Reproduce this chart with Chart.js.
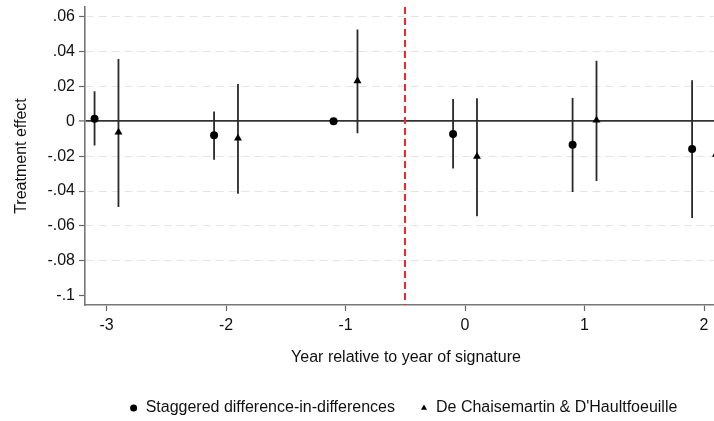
<!DOCTYPE html>
<html>
<head>
<meta charset="utf-8">
<script src="https://cdn.jsdelivr.net/npm/chart.js@4"></script>
<style>
  body { margin: 0; background: #fff; }
  #wrap { width: 714px; height: 421px; overflow: hidden; }
</style>
</head>
<body>
<div id="wrap"><canvas id="myChart" width="735" height="421"></canvas></div>
<script>
// event time (years relative to signature)
const eventTimes = [-3, -2, -1, 0, 1, 2];

// staggered DiD estimates and 95% CI
const staggeredEst = [0.0015, -0.008, 0, -0.0072, -0.0135, -0.0158];
const staggeredLo = [-0.0138, -0.022, null, -0.0271, -0.0405, -0.0554];
const staggeredHi = [0.0172, 0.0057, null, 0.0128, 0.0134, 0.0235];

// de Chaisemartin & D'Haultfoeuille estimates and CI
const dcdhEst = [-0.0063, -0.0097, 0.0232, -0.0202, 0.0006, -0.019];
const dcdhLo = [-0.0491, -0.0416, -0.0069, -0.0545, -0.0342, -0.05];
const dcdhHi = [0.0358, 0.0214, 0.0526, 0.0132, 0.0348, 0.012];

const xTicks = [-3, -2, -1, 0, 1, 2];
const xTickLabels = ['-3', '-2', '-1', '0', '1', '2'];
const yTicks = [-0.1, -0.08, -0.06, -0.04, -0.02, 0, 0.02, 0.04, 0.06];
const yTickLabels = ['-.1', '-.08', '-.06', '-.04', '-.02', '0', '.02', '.04', '.06'];

const eventLine = -0.5;
const offset = 0.1;

function points(est, shift) {
    return eventTimes.map((t, i) => ({ x: t + shift, y: est[i] }));
}

// one broken line per CI: lo, hi, gap
function ciSegments(lo, hi, shift) {
    let out = [];
    eventTimes.forEach((t, i) => {
        if (lo[i] === null || hi[i] === null) return;
        out.push({ x: t + shift, y: lo[i] });
        out.push({ x: t + shift, y: hi[i] });
        out.push({ x: t + shift, y: null });
    });
    return out;
}

const eventLinePlugin = {
    id: 'eventLine',
    beforeDatasetsDraw(chart) {
        const { ctx, chartArea, scales } = chart;
        const px = Math.round(scales.x.getPixelForValue(eventLine));
        ctx.save();
        ctx.strokeStyle = '#f0282d';
        ctx.lineWidth = 2;
        ctx.setLineDash([7, 4]);
        ctx.beginPath();
        ctx.moveTo(px, chartArea.top);
        ctx.lineTo(px, chartArea.bottom);
        ctx.stroke();
        ctx.restore();
    }
};

// legend is centred on the full figure in the original
const legendShift = {
    id: 'legendShift',
    afterLayout(chart) {
        const l = chart.legend;
        l.left += 40;
        l.right += 40;
        l.top += 5;
        l.bottom += 5;
    }
};

Chart.defaults.font.family = "Arial, 'Liberation Sans', sans-serif";
Chart.defaults.font.size = 16;
Chart.defaults.color = '#111';

const ctx = document.getElementById('myChart');

new Chart(ctx, {
    type: 'scatter',
    data: {
        datasets: [
            {
                label: 'Staggered difference-in-differences',
                data: points(staggeredEst, -offset),
                pointStyle: 'circle',
                pointRadius: 4,
                backgroundColor: '#000',
                borderColor: '#000',
                borderWidth: 0,
                order: 0
            },
            {
                label: "De Chaisemartin & D'Haultfoeuille",
                data: points(dcdhEst, offset),
                pointStyle: 'triangle',
                pointRadius: 4.6,
                backgroundColor: '#000',
                borderColor: '#000',
                borderWidth: 0,
                order: 0
            },
            {
                label: 'ci1',
                data: ciSegments(staggeredLo, staggeredHi, -offset),
                showLine: true,
                spanGaps: false,
                pointRadius: 0,
                borderColor: '#2a2a2a',
                borderWidth: 1.8,
                order: 1
            },
            {
                label: 'ci2',
                data: ciSegments(dcdhLo, dcdhHi, offset),
                showLine: true,
                spanGaps: false,
                pointRadius: 0,
                borderColor: '#2a2a2a',
                borderWidth: 1.8,
                order: 1
            }
        ]
    },
    options: {
        responsive: false,
        animation: false,
        layout: { padding: { top: 7, right: 8, left: 0, bottom: 0 } },
        plugins: {
            tooltip: { enabled: false },
            legend: {
                position: 'bottom',
                labels: {
                    usePointStyle: true,
                    boxWidth: 8,
                    boxHeight: 5,
                    padding: 25,
                    color: '#111',
                    font: { size: 16 },
                    filter: item => item.datasetIndex < 2
                }
            }
        },
        scales: {
            x: {
                type: 'linear',
                min: -3.18,
                max: 2.192,
                afterBuildTicks: scale => { scale.ticks = xTicks.map(v => ({ value: v })); },
                afterFit: scale => { scale.height = 65; },
                ticks: {
                    padding: 5,
                    color: '#111',
                    callback: (v, i) => xTickLabels[i]
                },
                grid: {
                    drawOnChartArea: false,
                    tickLength: 6,
                    tickColor: '#666',
                    tickWidth: 1.2
                },
                border: { color: '#777', width: 1.6 },
                title: {
                    display: true,
                    text: 'Year relative to year of signature',
                    color: '#111',
                    font: { size: 16 },
                    padding: { top: 0, bottom: 3 }
                }
            },
            y: {
                min: -0.10533,
                max: 0.06556,
                afterBuildTicks: scale => { scale.ticks = yTicks.map(v => ({ value: v })); },
                afterFit: scale => {
                    scale.width = 85;
                    scale.paddingTop = 0;
                    scale.paddingBottom = 0;
                },
                ticks: {
                    padding: 4,
                    color: '#111',
                    callback: (v, i) => yTickLabels[i]
                },
                grid: {
                    color: c => {
                        if (!c.tick) return '#e4e4e4';
                        if (c.tick.value === 0) return '#333';
                        if (c.tick.value === -0.1) return 'rgba(0,0,0,0)';
                        return '#e4e4e4';
                    },
                    lineWidth: c => (c.tick && c.tick.value === 0 ? 1.8 : 1),
                    tickLength: 6,
                    tickColor: '#666',
                    tickWidth: 1.2
                },
                border: {
                    color: '#777',
                    width: 1.6,
                    dash: c => (c.tick && c.tick.value !== 0 ? [8, 5] : [])
                },
                title: {
                    display: true,
                    text: 'Treatment effect',
                    color: '#111',
                    font: { size: 16 },
                    padding: { top: 12, bottom: 0 }
                }
            }
        }
    },
    plugins: [eventLinePlugin, legendShift]
});
</script>
</body>
</html>
